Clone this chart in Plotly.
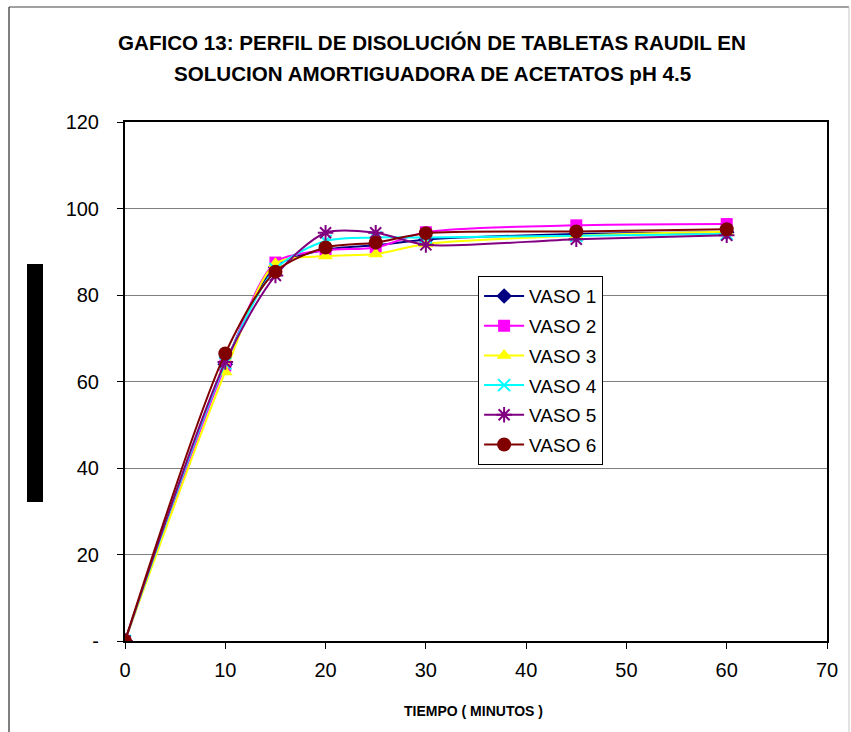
import plotly.graph_objects as go

tiempo = [0, 10, 15, 20, 25, 30, 45, 60]
vaso1 = [0, 64.0, 86.5, 90.5, 91.5, 92.8, 94.1, 94.5]
vaso2 = [0, 63.7, 87.5, 90.3, 91.0, 94.5, 96.1, 96.4]
vaso3 = [0, 62.2, 87.2, 89.0, 89.5, 91.8, 93.7, 94.6]
vaso4 = [0, 64.2, 86.0, 92.5, 93.3, 93.3, 93.7, 94.1]
vaso5 = [0, 64.5, 84.5, 94.4, 94.4, 91.6, 92.9, 93.8]
vaso6 = [0, 66.5, 85.4, 91.0, 92.1, 94.3, 94.7, 95.2]

names = ["VASO 1", "VASO 2", "VASO 3", "VASO 4", "VASO 5", "VASO 6"]
series = [vaso1, vaso2, vaso3, vaso4, vaso5, vaso6]
colors = ["#000080", "#FF00FF", "#FFFF00", "#00FFFF", "#800080", "#800000"]
symbols = ["diamond", "square", "triangle-up", "x-thin-open", "asterisk-open", "circle"]
sizes = [12, 12, 13, 12, 13, 14]

y_ticks = [0, 20, 40, 60, 80, 100, 120]
y_ticktext = ["-", "20", "40", "60", "80", "100", "120"]
x_ticks = [0, 10, 20, 30, 40, 50, 60, 70]

fig = go.Figure()
for n, s, c, sym, sz in zip(names, series, colors, symbols, sizes):
    mk = dict(symbol=sym, size=sz, color=c)
    if sym.endswith("-open"):
        mk["line"] = dict(color=c, width=2)
    fig.add_trace(go.Scatter(
        x=tiempo, y=s, name=n, mode="lines+markers", legendgroup=n,
        line=dict(color=c, width=2, shape="spline", smoothing=0.8),
        marker=mk,
    ))

font_main = "Liberation Sans, Arial, sans-serif"

fig.update_layout(
    width=851, height=732,
    margin=dict(l=125, r=24, t=122, b=91),
    paper_bgcolor="white", plot_bgcolor="white",
    showlegend=True,
    legend=dict(
        x=0.503, y=0.703, xanchor="left", yanchor="top",
        bgcolor="white", bordercolor="black", borderwidth=1,
        font=dict(family=font_main, size=19, color="black"),
        tracegroupgap=2, itemwidth=40,
    ),
    xaxis=dict(
        range=[0, 70], tickvals=x_ticks, showgrid=False, zeroline=False,
        showline=True, linecolor="black", linewidth=2, mirror=True,
        ticks="outside", ticklen=6, tickcolor="black", ticklabelstandoff=4,
        tickfont=dict(family=font_main, size=20, color="black"),
    ),
    yaxis=dict(
        range=[0, 120], tickvals=y_ticks, ticktext=y_ticktext,
        showgrid=True, gridcolor="#7f7f7f", gridwidth=1, zeroline=False,
        showline=True, linecolor="black", linewidth=2, mirror=True,
        ticks="outside", ticklen=6, tickcolor="black", ticklabelstandoff=14,
        tickfont=dict(family=font_main, size=20, color="black"),
    ),
    annotations=[
        dict(text="<b>GAFICO 13: PERFIL DE DISOLUCIÓN DE TABLETAS RAUDIL EN</b>",
             xref="paper", yref="paper", x=(432 - 125) / 702, y=(641 - 43) / 519,
             xanchor="center", yanchor="middle", showarrow=False,
             font=dict(family=font_main, size=20.6, color="black")),
        dict(text="<b>SOLUCION AMORTIGUADORA DE ACETATOS pH 4.5</b>",
             xref="paper", yref="paper", x=(432 - 125) / 702, y=(641 - 73) / 519,
             xanchor="center", yanchor="middle", showarrow=False,
             font=dict(family=font_main, size=20.6, color="black")),
        dict(text="<b>TIEMPO ( MINUTOS )</b>",
             xref="paper", yref="paper", x=(473 - 125) / 702, y=(641 - 711) / 519,
             xanchor="center", yanchor="middle", showarrow=False,
             font=dict(family=font_main, size=14, color="black")),
    ],
    shapes=[
        dict(type="rect", xref="paper", yref="paper",
             x0=(27 - 125) / 702, x1=(43 - 125) / 702,
             y0=(641 - 502) / 519, y1=(641 - 264) / 519,
             fillcolor="black", line=dict(width=0)),
        dict(type="line", xref="paper", yref="paper",
             x0=(9 - 125) / 702, x1=(9 - 125) / 702,
             y0=(641 - 7) / 519, y1=(641 - 740) / 519,
             line=dict(color="black", width=1)),
        dict(type="line", xref="paper", yref="paper",
             x0=(9 - 125) / 702, x1=(849 - 125) / 702,
             y0=(641 - 7) / 519, y1=(641 - 7) / 519,
             line=dict(color="#444444", width=1)),
        dict(type="line", xref="paper", yref="paper",
             x0=(849 - 125) / 702, x1=(849 - 125) / 702,
             y0=(641 - 7) / 519, y1=(641 - 740) / 519,
             line=dict(color="#c8c8c8", width=1)),
    ],
)

fig.write_html("out.html")
